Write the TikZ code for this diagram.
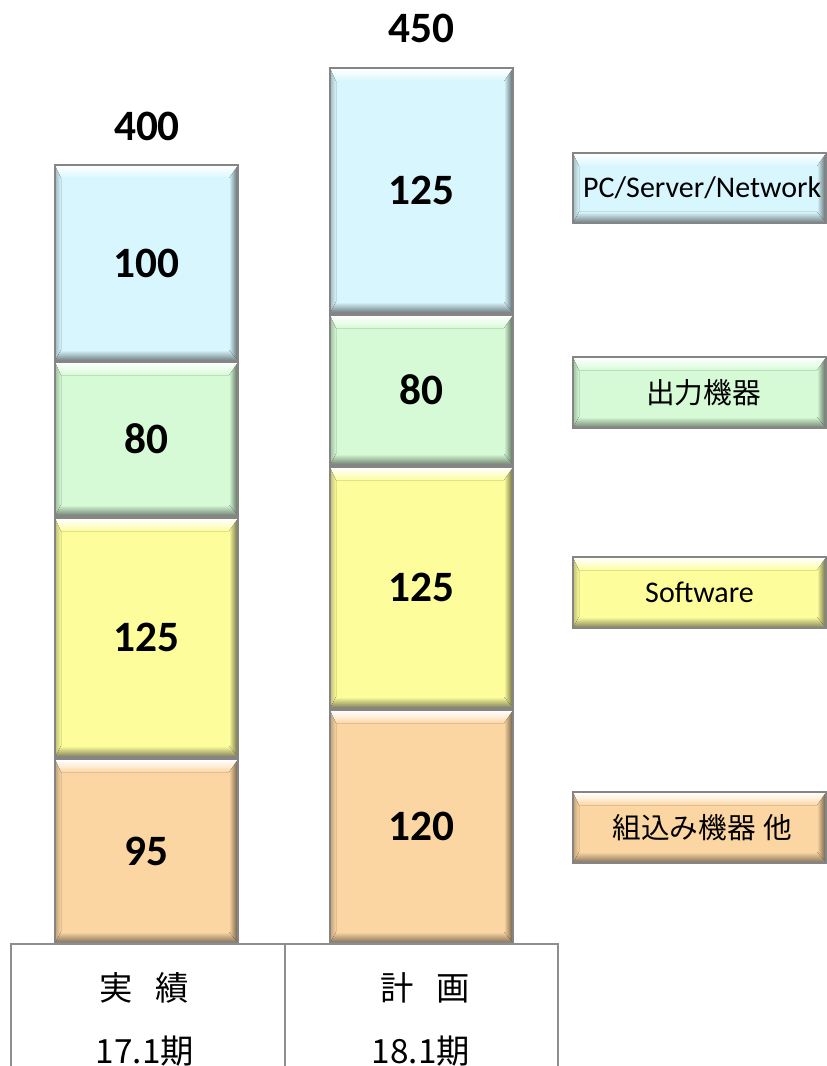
\documentclass[tikz,border=0pt]{standalone}
\usepackage{fontspec}
\setmainfont{Carlito}
\newfontfamily\jpfont{Noto Sans CJK JP}

\definecolor{segBlue}{HTML}{D7F6FE}
\definecolor{segGreen}{HTML}{D5FAD5}
\definecolor{segYellow}{HTML}{FDFD9C}
\definecolor{segOrange}{HTML}{FCD6A2}
\definecolor{rimGray}{HTML}{858585}
\definecolor{gridGray}{HTML}{8E8E8E}

\tikzset{
  valtext/.style={font=\fontsize{32.5}{36}\selectfont\bfseries, text=black, inner sep=0pt},
  lgdtext/.style={font=\fontsize{22.5}{26}\selectfont, text=black, inner sep=0pt},
  lgdjp/.style={font=\jpfont\fontsize{21.5}{26}\selectfont, text=black, inner sep=0pt},
  celltext/.style={font=\jpfont\fontsize{25}{30}\selectfont, text=black, inner sep=0pt},
  rim/.style={draw=rimGray, line width=1.1pt},
  gridline/.style={draw=gridGray, line width=1.5pt},
}

% bevelled box: name, x1, y1, x2, y2, colour, text style, text
\newcommand\bevbox[8]{%
  \fill[#6] (#2,#3) rectangle (#4,#5);
  % left face
  \fill[left color=#6!75!black, right color=#6]
    (#2,#3) -- (#2+6,#3+13) -- (#2+6,#5-11) -- (#2,#5) -- cycle;
  % right face
  \fill[left color=#6, right color=#6!42!black]
    (#4,#3) -- (#4-9,#3+13) -- (#4-9,#5-11) -- (#4,#5) -- cycle;
  % top face
  \fill[top color=white, bottom color=#6, middle color=white!60!#6]
    (#2,#3) -- (#4,#3) -- (#4-9,#3+13) -- (#2+6,#3+13) -- cycle;
  % bottom face
  \fill[top color=#6, bottom color=#6!50!black!80!gray]
    (#2,#5) -- (#4,#5) -- (#4-9,#5-11) -- (#2+6,#5-11) -- cycle;
  \draw[rim] (#2,#3) rectangle (#4,#5);
  \node[#7] (#1) at ({(#2+#4)/2},{(#3+#5)/2}) {#8};
}

\begin{document}
\begin{tikzpicture}[x=0.75pt,y=-0.75pt]
  \useasboundingbox (0,0) rectangle (827,1066);

  % period 17.1 (results)
  \bevbox{aBlue}{55}{165}{238}{361}{segBlue}{valtext}{100}
  \bevbox{aGreen}{55}{362}{238}{516}{segGreen}{valtext}{80}
  \bevbox{aYellow}{55}{518}{238}{757}{segYellow}{valtext}{125}
  \bevbox{aOrange}{55}{759}{238}{943}{segOrange}{valtext}{95}
  \node[valtext] (aTotal) at (147,126) {400};

  % period 18.1 (plan)
  \bevbox{bBlue}{330}{68}{513}{313}{segBlue}{valtext}{125}
  \bevbox{bGreen}{330}{315}{513}{465}{segGreen}{valtext}{80}
  \bevbox{bYellow}{330}{467}{513}{708}{segYellow}{valtext}{125}
  \bevbox{bOrange}{330}{710}{513}{943}{segOrange}{valtext}{120}
  \node[valtext] (bTotal) at (421,28) {450};

  % legend
  \bevbox{lgBlue}{573}{153}{826}{223}{segBlue}{lgdtext, xshift=2pt}{PC/Server/Network}
  \bevbox{lgGreen}{573}{357}{826}{428}{segGreen}{lgdjp, xshift=3pt}{出力機器}
  \bevbox{lgYellow}{573}{557}{826}{628}{segYellow}{lgdtext}{Software}
  \bevbox{lgOrange}{573}{792}{826}{863}{segOrange}{lgdjp, xshift=2pt}{組込み機器\hspace{0.25em}他}

  % category table
  \coordinate (tTL) at (11,944);
  \coordinate (tTM) at (285,944);
  \coordinate (tTR) at (558,944);
  \coordinate (tBL) at (11,1066);
  \coordinate (tBM) at (285,1066);
  \coordinate (tBR) at (558,1066);
  \draw[gridline] (tBL) -- (tTL) -- (tTR) -- (tBR);
  \draw[gridline] (tTM) -- (tBM);

  \node[celltext] (hA) at (144,988) {実\hspace{0.7em}績};
  \node[celltext] (hB) at (425,988) {計\hspace{0.7em}画};
  \node[celltext] (pA) at (145,1051) {17.1期};
  \node[celltext] (pB) at (421,1051) {18.1期};
\end{tikzpicture}
\end{document}
